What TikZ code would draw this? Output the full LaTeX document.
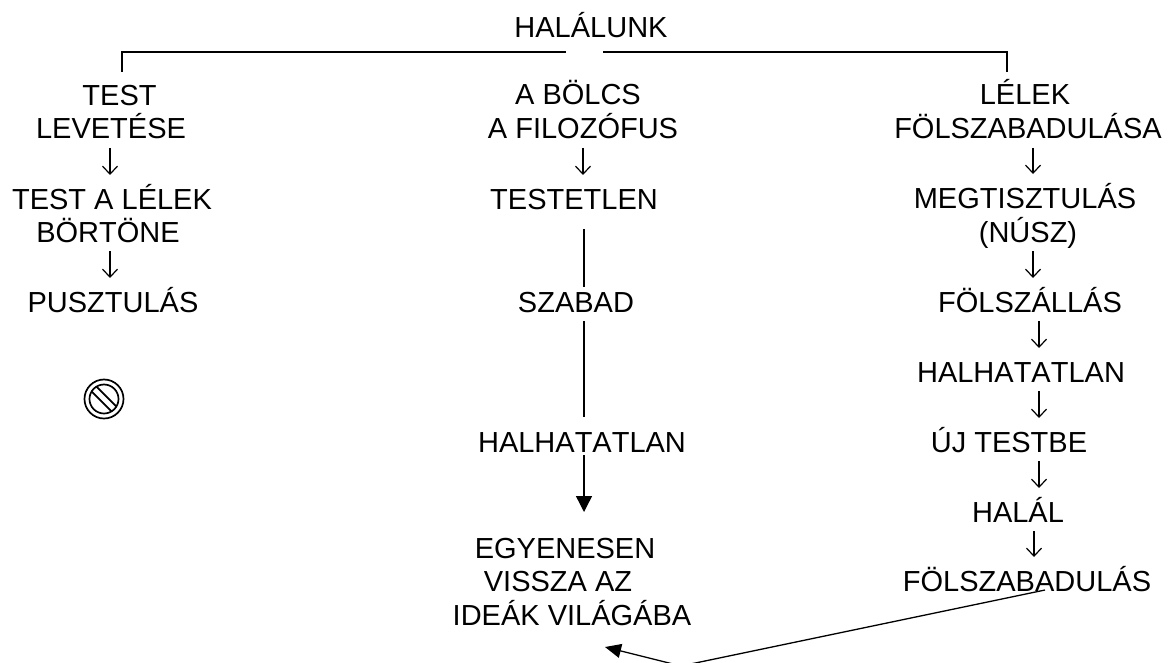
\documentclass[tikz,border=0pt]{standalone}
\usepackage{fontspec}
\setmainfont[Kerning=Off]{Liberation Sans}
\usetikzlibrary{arrows.meta}
\tikzset{
  every node/.style={inner sep=0pt,outer sep=0pt},
  lab/.style={anchor=base,font=\fontsize{29}{34}\selectfont},
  rule/.style={line width=1.3pt},
  barb/.style={line width=1.2pt,-{Straight Barb[length=8pt,width=15pt,line width=1.2pt]}},
  solidarrow/.style={line width=1.4pt,-{Triangle[length=16pt,width=16pt]}}
}
\newcommand{\stepdown}[3]{\draw[barb] ([yshift=-9pt]#1.base -| #3) -- ([yshift=34pt]#2.base -| #3);}
\begin{document}
\begin{tikzpicture}[x=1pt,y=-1pt]
\clip (0,0) rectangle (1174,663);
\fill[white] (0,0) rectangle (1174,663);
\node[lab] (hal) at (591,38) {HALÁLUNK};
% left
\node[lab] (l1) at (119.5,106) {TEST};
\node[lab] (l2) at (111,139) {LEVETÉSE};
\node[lab] (l3) at (112,209) {TEST A LÉLEK};
\node[lab] (l4) at (108,242) {BÖRTÖNE};
\node[lab] (l5) at (113,312) {PUSZTULÁS};
% centre
\node[lab] (c1) at (578,105) {A BÖLCS};
\node[lab] (c2) at (583,139) {A FILOZÓFUS};
\node[lab] (c3) at (574,209) {TESTETLEN};
\node[lab] (c4) at (576,312) {SZABAD};
\node[lab] (c5) at (582,452) {HALHATATLAN};
\node[lab] (c6) at (565,558) {EGYENESEN};
\node[lab] (c7) at (558,591) {VISSZA AZ};
\node[lab] (c8) at (572,625) {IDEÁK VILÁGÁBA};
% right
\node[lab] (r1) at (1025,105) {LÉLEK};
\node[lab] (r2) at (1028,139) {FÖLSZABADULÁSA};
\node[lab] (r3) at (1025,208) {MEGTISZTULÁS};
\node[lab] (r4) at (1028,242) {(NÚSZ)};
\node[lab] (r5) at (1030,312) {FÖLSZÁLLÁS};
\node[lab] (r6) at (1021,382) {HALHATATLAN};
\node[lab] (r7) at (1009,452) {ÚJ TESTBE};
\node[lab] (r8) at (1018,522) {HALÁL};
\node[lab] (r9) at (1027,591) {FÖLSZABADULÁS};
% columns of the small arrows
\coordinate (xl) at (110,0);
\coordinate (xc) at (583,0);
\coordinate (xa) at (1033,0);
\coordinate (xb) at (1039,0);
\coordinate (xd) at (1034,0);
\coordinate (xm) at (584,0);
\stepdown{l2}{l3}{xl}
\stepdown{l4}{l5}{xl}
\stepdown{c2}{c3}{xc}
\stepdown{r2}{r3}{xa}
\stepdown{r4}{r5}{xa}
\stepdown{r5}{r6}{xb}
\stepdown{r6}{r7}{xb}
\stepdown{r7}{r8}{xb}
\stepdown{r8}{r9}{xd}
% centre lines
\draw[rule] ([yshift=-20pt]c3.base -| xm) -- ([yshift=25pt]c4.base -| xm);
\draw[rule] ([yshift=-9pt]c4.base -| xm) -- ([yshift=35pt]c5.base -| xm);
\draw[solidarrow] ([yshift=-3pt]c5.base -| xm) -- ([yshift=79pt]c7.base -| xm);
% bracket
\coordinate (bl) at (122,72);
\coordinate (br) at (1007,72);
\coordinate (gl) at (566,52);
\coordinate (gr) at (603,52);
\draw[rule] (gl) -| (bl);
\draw[rule] (gr) -| (br);
% return arrow
\coordinate (ret0) at (1045,590);
\coordinate (ret1) at (681,666);
\coordinate (ret2) at (605,647);
\draw[line width=1.3pt,-{Triangle[length=16pt,width=14pt]}] (ret0) -- (ret1) -- (ret2);
% prohibition sign
\begin{scope}[shift={(104,399)},rotate=-45,line width=1.7pt]
\draw (0,0) circle[radius=19.5];
\draw (0,0) circle[radius=14.5];
\draw (-14,-3.5) -- (14,-3.5);
\draw (-14,3.5) -- (14,3.5);
\end{scope}
\end{tikzpicture}
\end{document}
